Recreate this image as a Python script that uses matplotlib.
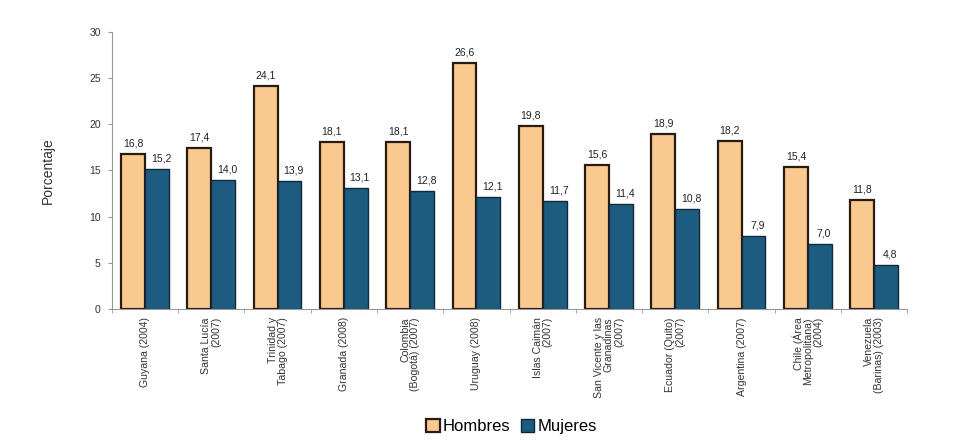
import matplotlib.pyplot as plt
import numpy as np

plt.rcParams['font.family'] = ['Liberation Sans', 'DejaVu Sans']

paises = [
    "Guyana (2004)",
    "Santa Lucía\n(2007)",
    "Trinidad y\nTabago (2007)",
    "Granada (2008)",
    "Colombia\n(Bogotá) (2007)",
    "Uruguay (2008)",
    "Islas Caimán\n(2007)",
    "San Vicente y las\nGranadinas\n(2007)",
    "Ecuador (Quito)\n(2007)",
    "Argentina (2007)",
    "Chile (Área\nMetropolitana)\n(2004)",
    "Venezuela\n(Barinas) (2003)",
]
hombres = [16.8, 17.4, 24.1, 18.1, 18.1, 26.6, 19.8, 15.6, 18.9, 18.2, 15.4, 11.8]
mujeres = [15.2, 14.0, 13.9, 13.1, 12.8, 12.1, 11.7, 11.4, 10.8, 7.9, 7.0, 4.8]

col_h = "#F9C98F"
col_m = "#1D5C80"

fig = plt.figure(figsize=(9.56, 4.45), dpi=100)
ax = fig.add_axes([0.117, 0.306, 0.832, 0.622])

x = np.arange(len(paises))
w = 0.36

bh = ax.bar(x - w/2, hombres, w, color=col_h, edgecolor="#2a1a10", linewidth=1.6, label="Hombres")
bm = ax.bar(x + w/2, mujeres, w, color=col_m, edgecolor="#0e2a3a", linewidth=1.0, label="Mujeres")

def coma(v):
    return f"{v:.1f}".replace('.', ',')

for xi, v in zip(x, hombres):
    ax.text(xi - w/2, v + 0.6, coma(v), ha='center', va='bottom', fontsize=7.5, color="#222222")
for xi, v in zip(x, mujeres):
    ax.text(xi + w/2 + 0.06, v + 0.6, coma(v), ha='center', va='bottom', fontsize=7.5, color="#222222")

ax.set_xlim(-0.5, 11.5)
ax.set_ylim(0, 30)
ax.set_yticks(range(0, 31, 5))
ax.tick_params(axis='y', labelsize=7.5, colors="#333333", length=3, width=0.8, color="#999999", pad=5)

ax.set_xticks(x)
ax.set_xticklabels(paises, rotation=90, fontsize=7.6, va='top', ha='center',
                   multialignment='right', color="#333333", linespacing=1.0)
ax.tick_params(axis='x', length=0, pad=6)
# marcas entre grupos
ax.set_xticks(np.arange(-0.5, 12, 1), minor=True)
ax.tick_params(axis='x', which='minor', length=3, color="#999999")

for s in ['top', 'right']:
    ax.spines[s].set_visible(False)
ax.spines['left'].set_color("#999999")
ax.spines['bottom'].set_color("#999999")

ax.set_ylabel("Porcentaje", fontsize=10, color="#333333", labelpad=25)

fig.legend(handles=[bh, bm], loc='lower center', bbox_to_anchor=(0.535, -0.01), ncol=2,
           frameon=False, fontsize=12, handlelength=0.8, handleheight=0.8,
           handletextpad=0.2, columnspacing=0.6)

fig.savefig("out.png", dpi=100)
plt.close(fig)
